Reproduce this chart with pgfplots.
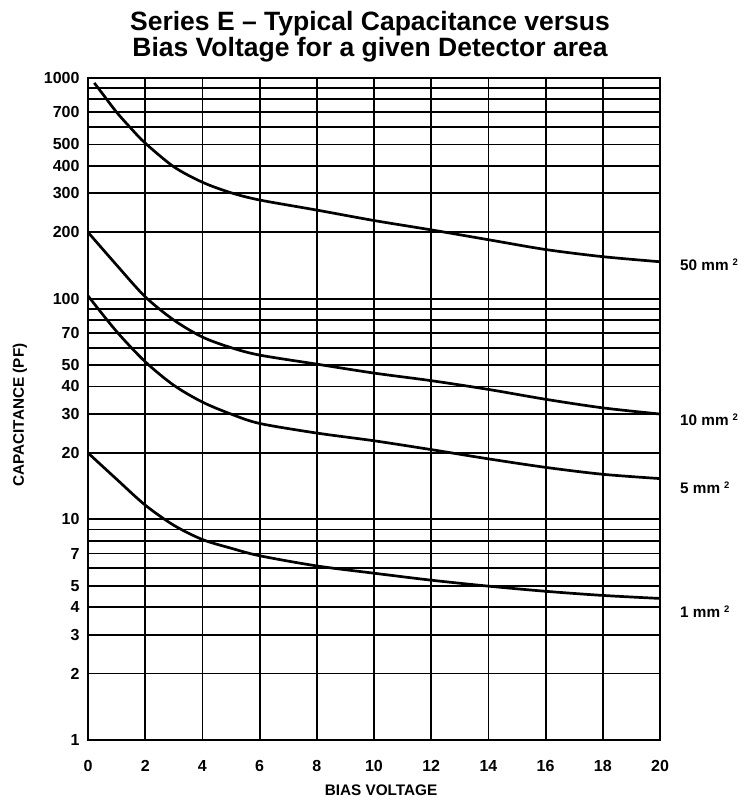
\documentclass[border=0pt]{standalone}
\usepackage{fontspec}
\setmainfont{Liberation Sans}
\usepackage{pgfplots}
\pgfplotsset{compat=1.18}
\newcommand{\sq}{\hspace{4pt}\raisebox{5pt}{\fontsize{9.5}{9.5}\selectfont 2}}
\begin{document}
\begin{tikzpicture}
\useasboundingbox (-88pt,-63pt) rectangle (653pt,740pt);
\begin{axis}[
  at={(0pt,0pt)}, anchor=south west,
  scale only axis, width=572pt, height=662pt,
  xmin=0, xmax=20, ymin=1, ymax=1000, ymode=log,
  xtick={0,2,...,20}, xticklabels={0,2,4,6,8,10,12,14,16,18,20},
  ytick={1,2,3,4,5,6,7,8,9,10,20,30,40,50,60,70,80,90,100,200,300,400,500,600,700,800,900,1000},
  yticklabels={1,2,3,4,5,,7,,,10,20,30,40,50,,70,,,100,200,300,400,500,,700,,,1000},
  major tick length=0pt, minor tick length=0pt,
  xmajorgrids, ymajorgrids,
  major grid style={black, line width=1.8pt},
  axis line style={black, line width=2.4pt},
  tick label style={font=\fontsize{16}{16}\selectfont\bfseries},
  xticklabel style={yshift=-17pt},
  yticklabel style={xshift=-5pt},
  clip=false,
]
\addplot[black, line width=2.7pt, smooth] coordinates {
 (0.22,950) (0.5,851) (1,700) (1.5,592) (2,507) (3,396) (4,337) (5,302) (6,280) (8,252) (10,226) (12,205) (14,185) (16,167) (18,155) (20,147)};
\addplot[black, line width=2.7pt, smooth] coordinates {
 (0,200) (1,142) (2,102) (3,80) (4,67) (5,60) (6,55.5) (8,50.5) (10,46) (12,42.5) (14,38.8) (16,35) (18,32) (20,30)};
\addplot[black, line width=2.7pt, smooth] coordinates {
 (0,103) (1,71) (2,51.8) (3,40.5) (4,34) (5,30) (6,27.2) (8,24.6) (10,22.7) (12,20.7) (14,18.8) (16,17.2) (18,16.0) (20,15.3)};
\addplot[black, line width=2.7pt, smooth] coordinates {
 (0,20) (1,15.2) (2,11.6) (3,9.4) (4,8.1) (5,7.4) (6,6.84) (8,6.15) (10,5.7) (12,5.3) (14,4.98) (16,4.72) (18,4.52) (20,4.38)};
\end{axis}
\begin{scope}[every node/.style={font=\fontsize{15.3}{16}\selectfont\bfseries, inner sep=0pt}]
\node[anchor=west] at (592pt,475pt) {50 mm\sq};
\node[anchor=west] at (592pt,320pt) {10 mm\sq};
\node[anchor=west] at (592pt,252pt) {5 mm\sq};
\node[anchor=west] at (592pt,128pt) {1 mm\sq};
\node[rotate=90] at (-68pt,325pt) {CAPACITANCE (PF)};
\node at (293pt,-50pt) {BIAS VOLTAGE};
\end{scope}
\node[align=center, inner sep=0pt, font=\fontsize{26.5}{24}\selectfont\bfseries] at (282pt,703pt) {Series E -- Typical Capacitance versus\\Bias Voltage for a given Detector area};
\end{tikzpicture}
\end{document}
